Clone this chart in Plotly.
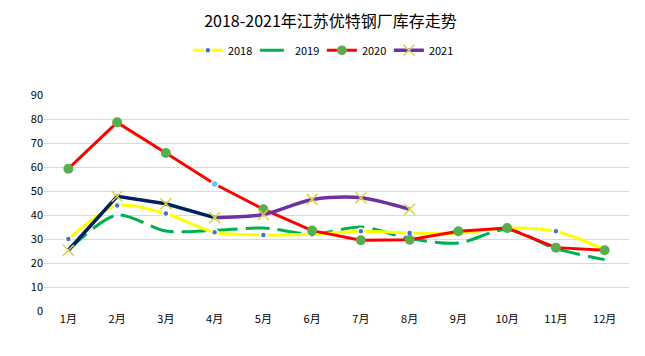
import plotly.graph_objects as go

months = ["1月", "2月", "3月", "4月", "5月", "6月", "7月", "8月", "9月", "10月", "11月", "12月"]
y2018 = [30.0, 44.0, 40.6, 32.8, 31.7, 32.0, 33.2, 32.5, 32.4, 34.6, 33.2, 25.6]
y2019 = [25.5, 40.0, 33.3, 33.6, 34.6, 32.0, 35.0, 30.2, 28.3, 34.0, 26.0, 21.4]
y2020 = [59.3, 78.6, 65.8, 52.9, 42.4, 33.5, 29.5, 29.7, 33.2, 34.6, 26.4, 25.3]
y2021 = [25.3, 47.8, 44.7, 38.9, 40.2, 46.5, 47.2, 42.4]

font_family = "Noto Sans CJK SC, Noto Sans, sans-serif"

fig = go.Figure()

# 2019 (green dashed, smooth)
fig.add_trace(go.Scatter(
    x=months, y=y2019, name="2019", mode="lines", legendrank=2,
    line=dict(color="#00B050", width=3, dash="24px,8px", shape="spline", smoothing=0.8),
))
# 2018 (yellow, smooth, blue markers)
fig.add_trace(go.Scatter(
    x=months, y=y2018, name="2018", mode="lines+markers", legendrank=1,
    line=dict(color="#FFFF00", width=3, shape="spline", smoothing=0.8),
    marker=dict(color="#4472C4", size=6, line=dict(color="white", width=1.5)),
))
# 2020 (red, straight, green markers; April marker light blue)
m2020 = ["#5AAD4E"] * len(y2020)
s2020 = [10] * len(y2020)
m2020[3] = "#5BC8F5"
s2020[3] = 7
fig.add_trace(go.Scatter(
    x=months, y=y2020, name="2020", mode="lines+markers", legendrank=3,
    line=dict(color="#FF0000", width=3),
    marker=dict(color=m2020, size=s2020, opacity=1,
                line=dict(color="white", width=[0, 0, 0, 1.5] + [0] * 8)),
))
# 2021: Jan-Apr navy segment, Apr-Aug purple
fig.add_trace(go.Scatter(
    x=months[:4], y=y2021[:4], name="2021", mode="lines", showlegend=False,
    line=dict(color="#002060", width=3.5),
))
fig.add_trace(go.Scatter(
    x=months[3:len(y2021)], y=y2021[3:], name="2021", mode="lines", showlegend=False,
    line=dict(color="#7030A0", width=3.5, shape="spline", smoothing=0.8),
))
fig.add_trace(go.Scatter(
    x=months[:len(y2021)], y=y2021, name="2021", mode="markers", showlegend=False,
    marker=dict(symbol="x-thin", size=11, line=dict(color="#D4D450", width=1.5)),
))
# legend entry for 2021
fig.add_trace(go.Scatter(
    x=[None], y=[None], name="2021", mode="lines+markers", legendrank=4,
    line=dict(color="#7030A0", width=3.5),
    marker=dict(symbol="x-thin", size=11, line=dict(color="#D4D450", width=1.5)),
))

fig.update_layout(
    width=645, height=356,
    margin=dict(l=36, r=24, t=87, b=53),
    paper_bgcolor="white", plot_bgcolor="white",
    font=dict(family=font_family, color="#000000", size=11),
    title=dict(text="2018-2021年江苏优特钢厂库存走势", x=0.5, xanchor="center",
               y=1 - 13 / 356, yref="container", yanchor="middle",
               font=dict(size=16, color="#000000", family=font_family)),
    legend=dict(orientation="h", x=0.475, xanchor="center", y=1.207, yanchor="middle",
                font=dict(size=11, color="#000000"), itemwidth=30,
                entrywidth=22, entrywidthmode="pixels",
                bgcolor="rgba(0,0,0,0)"),
    showlegend=True,
)
fig.update_xaxes(type="category", range=[-0.5, 11.5], autorange=False,
                 showgrid=False, showline=False, zeroline=False,
                 ticks="", automargin=False, tickfont=dict(size=11, color="#000000"))
fig.update_yaxes(range=[0, 90], dtick=10, showgrid=True, gridcolor="#D9D9D9", gridwidth=1,
                 zeroline=False, showline=False, ticks="", automargin=False,
                 tickfont=dict(size=11, color="#000000"))

fig.write_html("out.html")
